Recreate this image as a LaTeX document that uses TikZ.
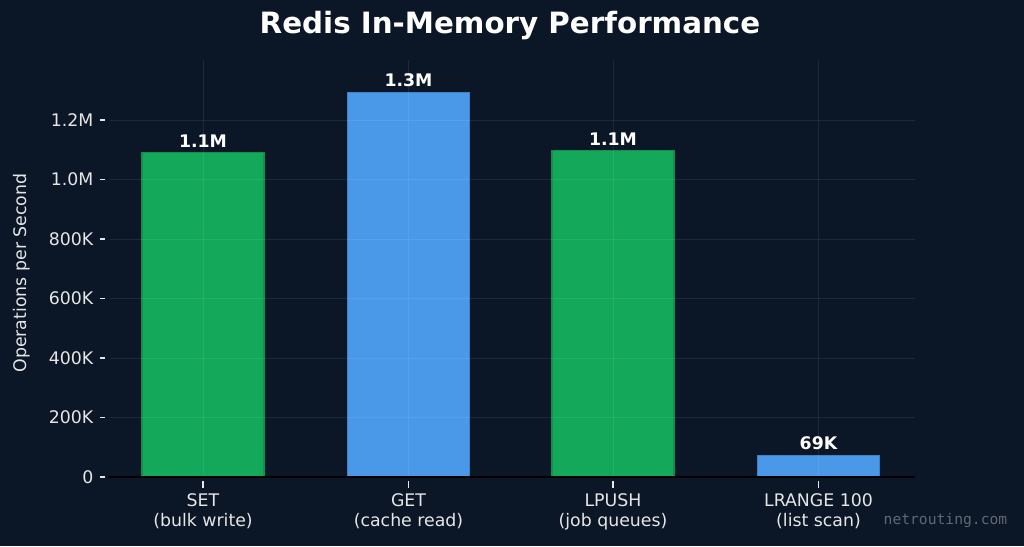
\documentclass[tikz,border=0pt]{standalone}
\usepackage{fontspec}
\setmainfont{DejaVu Sans}
\setmonofont{DejaVu Sans Mono}
\definecolor{bgnavy}{HTML}{0B1627}
\definecolor{barGreen}{HTML}{14A85A}
\definecolor{barBlue}{HTML}{4A98E8}
\definecolor{tickGray}{HTML}{E6E6E6}
\tikzset{
    bar/.style={draw=#1!85!black, fill=#1, line width=0.8pt},
    tick/.style={tickGray, line width=0.8pt},
    gridline/.style={white, opacity=0.08, line width=0.6pt},
    ticklabel/.style={text=tickGray, font=\fontsize{13}{15}\selectfont},
    catlabel/.style={text=tickGray, font=\fontsize{13}{15}\selectfont, align=center, anchor=north},
    vallabel/.style={text=white, font=\bfseries\fontsize{13}{15}\selectfont, anchor=south}
}
\begin{document}
\begin{tikzpicture}[x=0.75pt, y=-0.75pt]
    % Background
    \fill[bgnavy] (0,0) rectangle (1024,546);
    \useasboundingbox (0,0) rectangle (1024,546);

    % Title
    \node[text=white, font=\bfseries\fontsize{22}{26}\selectfont] (title) at (510,26) {Redis In-Memory Performance};

    % Bars
    \node[bar=barGreen, minimum width=91.5pt, minimum height=0.75pt*324, inner sep=0pt, anchor=south] (set) at (203,477) {};
    \node[bar=barBlue, minimum width=91.5pt, minimum height=0.75pt*384, inner sep=0pt, anchor=south] (get) at (408.5,477) {};
    \node[bar=barGreen, minimum width=91.5pt, minimum height=0.75pt*326, inner sep=0pt, anchor=south] (lpush) at (613,477) {};
    \node[bar=barBlue, minimum width=91.5pt, minimum height=0.75pt*21, inner sep=0pt, anchor=south] (lrange) at (818.5,477) {};

    % Grid
    \foreach \v in {1,...,6}
        \draw[gridline] (110,477-59.5*\v) -- (915,477-59.5*\v);
    \foreach \c in {set,get,lpush,lrange}
        \draw[gridline] (\c.south |- 0,60) -- (\c.south);

    % Value labels
    \node[vallabel] (vset) at (set.north) {1.1M};
    \node[vallabel] (vget) at (get.north) {1.3M};
    \node[vallabel] (vlpush) at (lpush.north) {1.1M};
    \node[vallabel] (vlrange) at (lrange.north) {69K};

    % Axis
    \coordinate (xl) at (108,477);
    \coordinate (xr) at (915,477);
    \draw[black, line width=1.2pt] (xl) -- (xr);

    % Y ticks
    \foreach \v/\t [count=\i from 0] in {0/0,1/200K,2/400K,3/600K,4/800K,5/1.0M,6/1.2M} {
        \draw[tick] (100,477-59.5*\v) -- (105,477-59.5*\v);
        \node[ticklabel, anchor=east] (yt\i) at (98,477-59.5*\v) {\t};
    }
    \node[ticklabel, rotate=90] (ylab) at (22,273) {Operations per Second};

    % X ticks and labels
    \foreach \c/\a/\b in {set/SET/bulk write,get/GET/cache read,lpush/LPUSH/job queues,lrange/LRANGE 100/list scan} {
        \draw[tick] ([yshift=-3pt]\c.south) -- ([yshift=-8pt]\c.south);
        \node[catlabel] (l\c) at ([yshift=-9pt]\c.south) {\a\\(\b)};
    }

    % Watermark
    \node[text=white, opacity=0.35, font=\ttfamily\fontsize{11}{13}\selectfont, anchor=east] (mark) at (1012,520) {netrouting.com};
\end{tikzpicture}
\end{document}
